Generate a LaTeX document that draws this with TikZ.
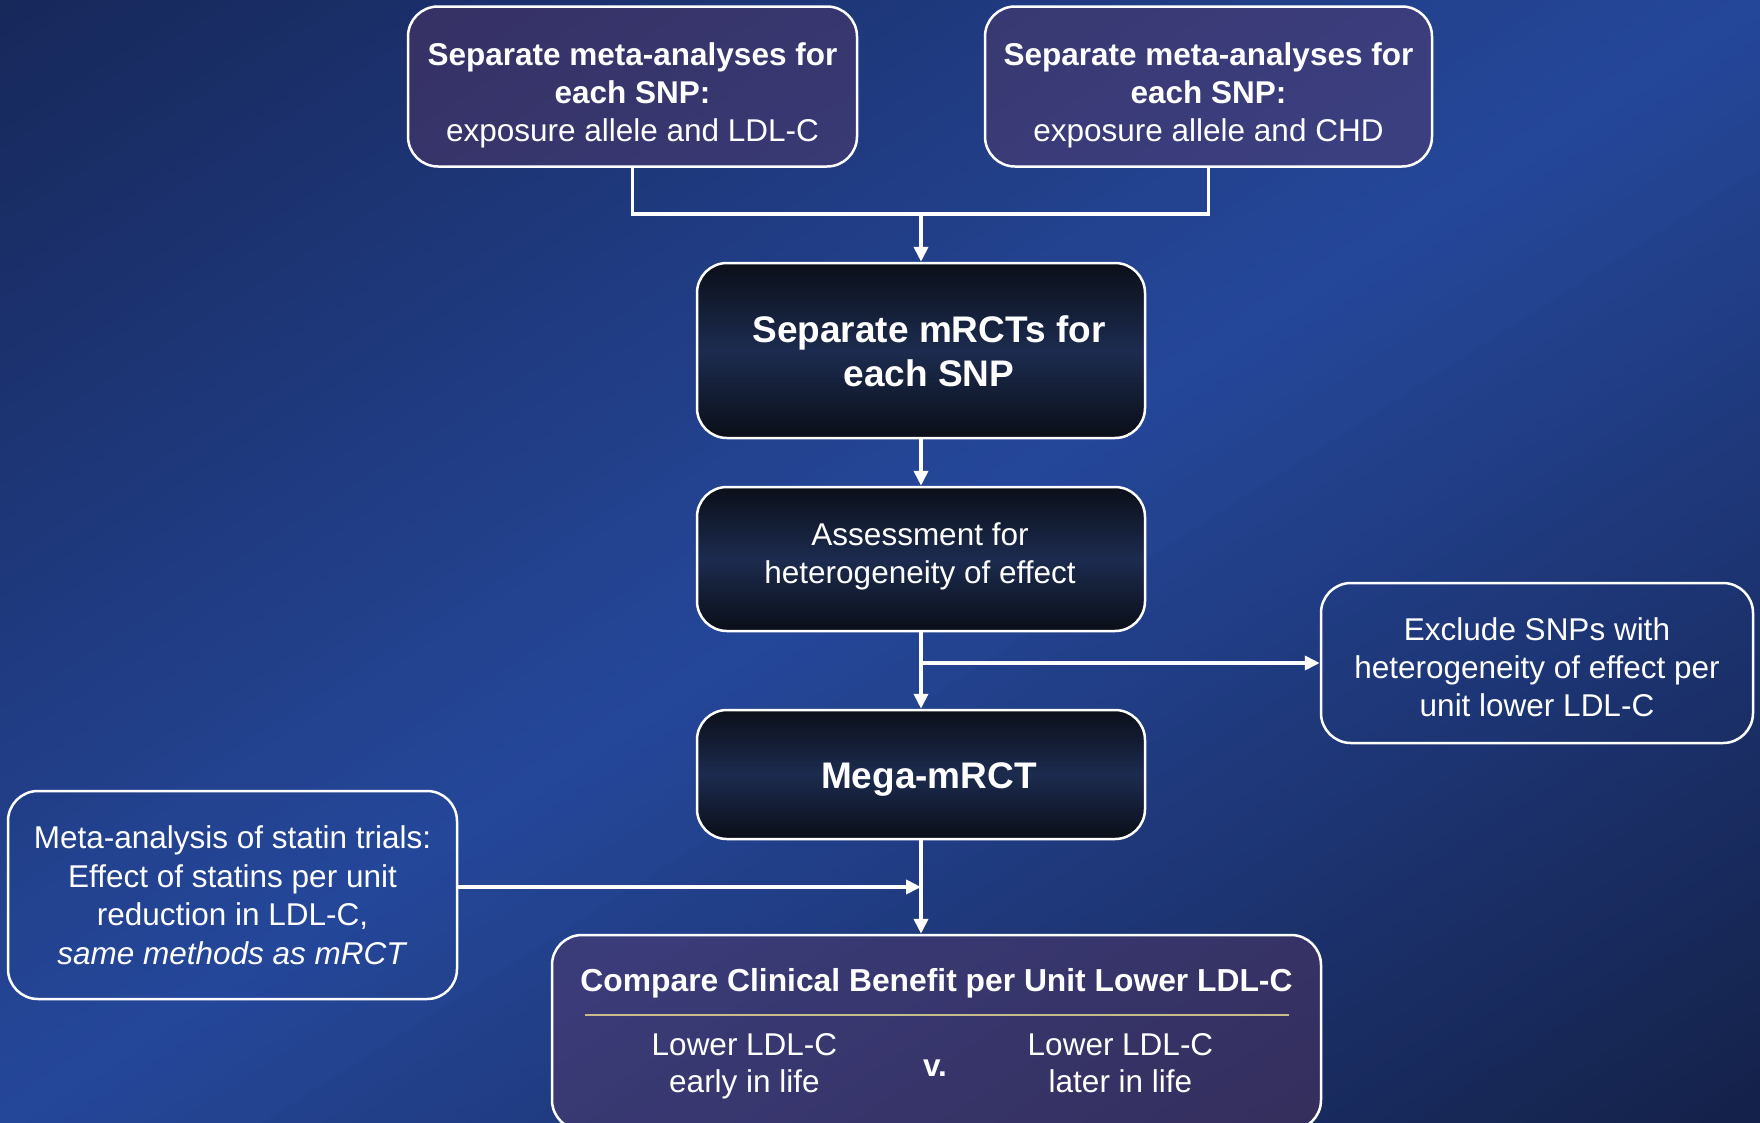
\documentclass[tikz,border=0pt]{standalone}
\usepackage{fontspec}
\setmainfont{Liberation Sans}
\usetikzlibrary{arrows.meta}
\definecolor{bgA}{HTML}{17285A}
\definecolor{bgB}{HTML}{25479A}
\definecolor{bgC}{HTML}{142149}
\definecolor{boxpurple}{HTML}{65365D}
\definecolor{darktop}{HTML}{0B0F19}
\definecolor{darkmid}{HTML}{1C2B4F}
\definecolor{darkbot}{HTML}{0A0E17}
\definecolor{tanline}{HTML}{C8BC8A}
\newcommand\fsn{\fontsize{31.5}{38}\selectfont}
\newcommand\fsc{\fontsize{31.5}{37}\selectfont}
\newcommand\fsb{\fontsize{37}{44}\selectfont}
\tikzset{
  boxbase/.style={rectangle, rounded corners=30pt, draw=white, line width=2.5pt, inner sep=0pt},
  purplebox/.style={boxbase, fill=boxpurple, fill opacity=0.37},
  darkbox/.style={boxbase, top color=darktop, bottom color=darkbot, middle color=darkmid},
  clearbox/.style={boxbase},
  txt/.style={text=white, align=center, inner sep=0pt, font=\fsn},
  conn/.style={draw=white, line width=3.8pt},
  arr/.style={conn, -{Triangle[length=15pt,width=14pt]}},
}
\begin{document}
\begin{tikzpicture}[x=1pt,y=-1pt]
\useasboundingbox (0,0) rectangle (1760,1122);
\begin{scope}
\clip (0,0) rectangle (1760,1122);
% background: diagonal gradient
\foreach \i in {0,...,119}{
  \pgfmathsetmacro{\ta}{\i/120}
  \pgfmathsetmacro{\tb}{(\i+1)/120+0.005}
  \pgfmathsetmacro{\tm}{(\i+0.5)/120}
  \pgfmathsetmacro{\pp}{\tm<0.5 ? 200*\tm : 200*(1-\tm)}
  \ifnum\i<60 \colorlet{bgstrip}{bgB!\pp!bgA}\else\colorlet{bgstrip}{bgB!\pp!bgC}\fi
  \fill[bgstrip] ({2*\ta*1760},0) -- ({2*\tb*1760},0) -- (0,{2*\tb*1122}) -- (0,{2*\ta*1122}) -- cycle;
}

% boxes
\node[purplebox, minimum width=449pt, minimum height=160pt] (tl) at (632.5,86.5) {};
\node[purplebox, minimum width=447pt, minimum height=160pt] (tr) at (1208.5,86.5) {};
\node[darkbox, minimum width=448pt, minimum height=175pt] (mrct) at (921,350.5) {};
\node[darkbox, minimum width=448pt, minimum height=144pt] (assess) at (921,559) {};
\node[darkbox, minimum width=448pt, minimum height=129pt] (mega) at (921,774.5) {};
\node[clearbox, minimum width=432pt, minimum height=160pt] (excl) at (1537,663) {};
\node[clearbox, minimum width=449pt, minimum height=208pt] (meta) at (232.5,895) {};
\node[purplebox, minimum width=769pt, minimum height=195pt] (cmp) at (936.5,1032.5) {};

% texts
\node[txt] (tlt) at (632.5,95) {\textbf{Separate meta-analyses for}\\\textbf{each SNP:}\\exposure allele and LDL-C};
\node[txt] (trt) at (1208.5,95) {\textbf{Separate meta-analyses for}\\\textbf{each SNP:}\\exposure allele and CHD};
\node[txt, font=\fsb\bfseries] (mrctt) at (929,351) {Separate mRCTs for\\each SNP};
\node[txt] (assesst) at (920,556) {Assessment for\\heterogeneity of effect};
\node[txt, font=\fsb\bfseries] (megat) at (929,779.4) {Mega-mRCT};
\node[txt] (exclt) at (1537,667.5) {Exclude SNPs with\\heterogeneity of effect per\\unit lower LDL-C};
\node[txt, font=\fontsize{31.5}{38.5}\selectfont] (metat) at (232.5,895) {Meta-analysis of statin trials:\\Effect of statins per unit\\reduction in LDL-C,\\\textit{same methods as mRCT}};
\node[txt, font=\fontsize{31.8}{38}\selectfont\bfseries] (cmpt) at (936.5,983.5) {Compare Clinical Benefit per Unit Lower LDL-C};
\node[txt, font=\fsc] (earlyt) at (744.5,1066) {Lower LDL-C\\early in life};
\node[txt, font=\fsc\bfseries] (vt) at (935,1068.5) {v.};
\node[txt, font=\fsc] (latert) at (1120.5,1063) {Lower LDL-C\\later in life};

\coordinate (sepL) at (585,1015);
\coordinate (sepR) at (1289,1015);
\draw[tanline, line width=2.5pt] (sepL) -- (sepR);

% connectors
\coordinate (j1) at (921,214);
\coordinate (j2) at (921,663);
\coordinate (j3) at (921,887);
\draw[conn] (tl.south) |- (j1) -| (tr.south);
\draw[arr] (j1) -- (mrct.north);
\draw[arr] (mrct.south) -- (assess.north);
\draw[arr] (assess.south) -- (mega.north);
\draw[arr] (j2) -- (excl.west);
\draw[arr] (mega.south) -- (mega.south |- cmp.north);
\draw[arr] (meta.east |- j3) -- (j3);
\end{scope}
\end{tikzpicture}
\end{document}
